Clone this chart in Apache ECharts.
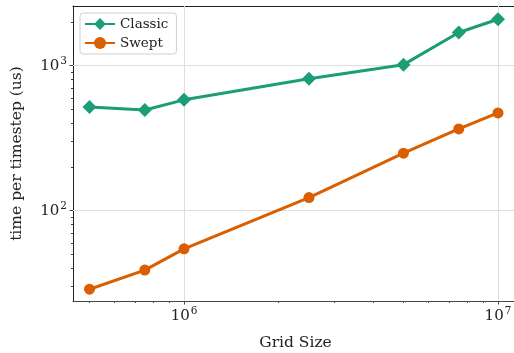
<!DOCTYPE html>
<html>
<head>
<meta charset="utf-8">
<script src="https://cdn.jsdelivr.net/npm/echarts@6/dist/echarts.min.js"></script>
<style>html,body{margin:0;padding:0;background:#fff}#c{width:514px;height:353px}</style>
</head>
<body>
<div id="c"></div>
<script>
var gridSizes = [5e5, 7.5e5, 1e6, 2.5e6, 5e6, 7.5e6, 1e7];
var classic = [518, 494, 581, 812, 1016, 1693, 2090];
var swept = [28.7, 38.9, 54.5, 123, 249, 366, 472];
var xMajor = [1e6, 1e7];
var xMinor = [5e5, 6e5, 7e5, 8e5, 9e5, 2e6, 3e6, 4e6, 5e6, 6e6, 7e6, 8e6, 9e6];
var yMajor = [100, 1000];
var yMinor = [30, 40, 50, 60, 70, 80, 90, 200, 300, 400, 500, 600, 700, 800, 900, 2000];
var seriesNames = ['Classic', 'Swept'];
var xTitle = 'Grid Size';
var yTitle = 'time per timestep (us)';

var FONT = 'DejaVu Serif';
var X_MIN = 4.43e5, X_MAX = 1.158e7, Y_MIN = 23.8, Y_MAX = 2580;
function powLabel(v) {
  var e = Math.round(Math.log10(v));
  return '{b|10}{s|' + e + '}';
}
var rich = {
  b: {fontFamily: FONT, fontSize: 15, color: '#222'},
  s: {fontFamily: FONT, fontSize: 10.5, color: '#222', verticalAlign: 'bottom', padding: [0, 0, 9, 1]}
};
function mkGrid() {
  return {left: 73, right: -4, top: 6, bottom: 52, containLabel: false, outerBoundsMode: 'none',
    show: false, borderWidth: 0, borderColor: 'rgba(0,0,0,0)', backgroundColor: 'rgba(0,0,0,0)'};
}
function logAxis(extra, lo, hi) {
  var a = {type: 'log', logBase: 10, min: lo, max: hi,
    axisLine: {show: false}, axisTick: {show: false}, axisLabel: {show: false},
    splitLine: {show: false}, minorTick: {show: false}, minorSplitLine: {show: false},
    axisPointer: {show: false}};
  for (var k in extra) a[k] = extra[k];
  return a;
}
var gridLineData = xMajor.map(function (v) { return {xAxis: v}; })
  .concat(yMajor.map(function (v) { return {yAxis: v}; }));

var chart = echarts.init(document.getElementById('c'));
chart.setOption({
  animation: false,
  backgroundColor: '#fff',
  grid: [mkGrid(), mkGrid()],
  legend: {
    orient: 'vertical', left: 80, top: 13,
    data: seriesNames,
    itemWidth: 30, itemHeight: 15, itemGap: 5,
    backgroundColor: '#fff', borderColor: '#d0d0d0', borderWidth: 1, borderRadius: 3,
    padding: [4, 8, 4, 4], z: 10,
    textStyle: {fontFamily: FONT, fontSize: 13.5, color: '#222'}
  },
  xAxis: [
    logAxis({gridIndex: 0, position: 'bottom',
     name: xTitle, nameLocation: 'middle', nameGap: 34,
     nameTextStyle: {fontFamily: FONT, fontSize: 15.5, color: '#222'},
     axisLine: {show: true, lineStyle: {color: '#444', width: 1}},
     axisTick: {show: true, inside: false, length: 3.5, customValues: xMajor, lineStyle: {color: '#444'}},
     axisLabel: {show: true, customValues: xMajor, formatter: powLabel, rich: rich, margin: 5}}, X_MIN, X_MAX),
    logAxis({gridIndex: 1, position: 'bottom',
     axisTick: {show: true, inside: false, length: 2, customValues: xMinor, lineStyle: {color: '#444', width: 1}}}, X_MIN, X_MAX),
    logAxis({gridIndex: 1, position: 'top',
     axisLine: {show: true, lineStyle: {color: '#222', width: 1}}}, X_MIN, X_MAX)
  ],
  yAxis: [
    logAxis({gridIndex: 0, position: 'left',
     name: yTitle, nameLocation: 'middle', nameGap: 48, nameRotate: 90,
     nameTextStyle: {fontFamily: FONT, fontSize: 15.5, color: '#222'},
     axisLine: {show: true, lineStyle: {color: '#222', width: 1}},
     axisTick: {show: true, inside: false, length: 3.5, customValues: yMajor, lineStyle: {color: '#444'}},
     axisLabel: {show: true, customValues: yMajor, formatter: powLabel, rich: rich, margin: 6}}, Y_MIN, Y_MAX),
    logAxis({gridIndex: 1, position: 'left',
     axisTick: {show: true, inside: false, length: 2, customValues: yMinor, lineStyle: {color: '#444', width: 1}}}, Y_MIN, Y_MAX)
  ],
  series: [
    {name: seriesNames[0], type: 'line', xAxisIndex: 0, yAxisIndex: 0,
     data: gridSizes.map(function (x, i) { return [x, classic[i]]; }),
     symbol: 'diamond', symbolSize: 14, showSymbol: true, z: 3,
     lineStyle: {color: '#1b9e77', width: 3}, itemStyle: {color: '#1b9e77'},
     markLine: {silent: true, z: 1, symbol: 'none', label: {show: false},
       lineStyle: {color: '#dedede', type: 'solid', width: 1},
       emphasis: {disabled: true},
       data: gridLineData}},
    {name: seriesNames[1], type: 'line', xAxisIndex: 0, yAxisIndex: 0,
     data: gridSizes.map(function (x, i) { return [x, swept[i]]; }),
     symbol: 'circle', symbolSize: 11, showSymbol: true, z: 3,
     lineStyle: {color: '#d95f02', width: 3}, itemStyle: {color: '#d95f02'}}
  ]
});
</script>
</body>
</html>
